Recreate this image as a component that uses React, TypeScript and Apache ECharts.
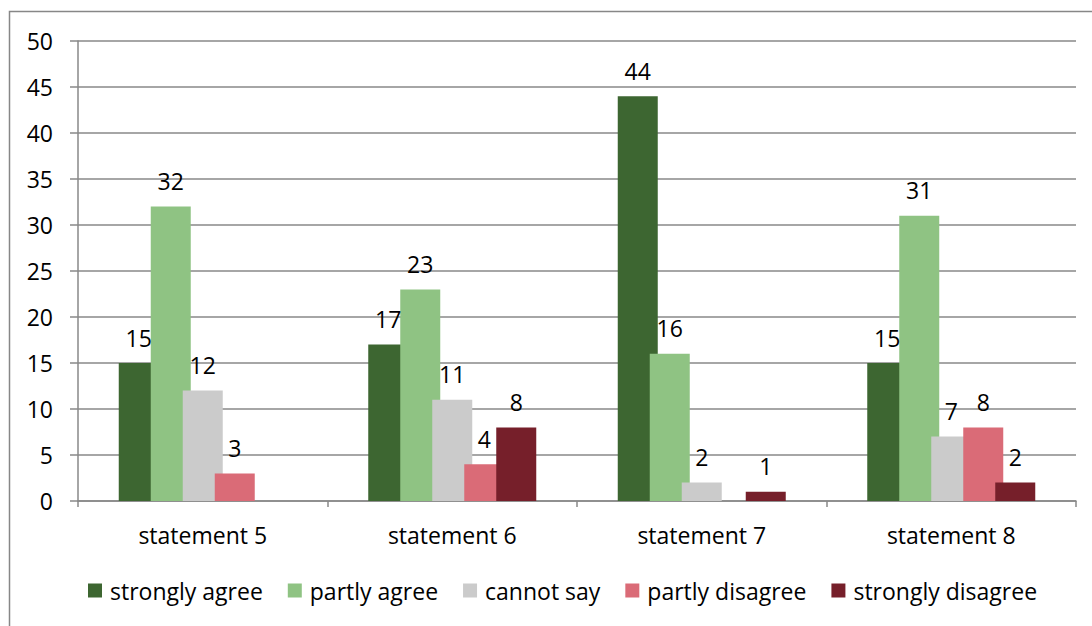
import React, { useEffect, useRef } from "react";
import * as echarts from "echarts";

const categories = ["statement 5", "statement 6", "statement 7", "statement 8"];
const seriesNames = ["strongly agree", "partly agree", "cannot say", "partly disagree", "strongly disagree"];
const stronglyAgree = [15, 17, 44, 15];
const partlyAgree = [32, 23, 16, 31];
const cannotSay = [12, 11, 2, 7];
const partlyDisagree = [3, 4, 0, 8];
const stronglyDisagree = [0, 8, 1, 2];
const seriesColors = ["#3D6631", "#8FC383", "#CBCBCB", "#DA6B77", "#761F2A"];

const FONT = "'Open Sans', 'Noto Sans', sans-serif";
const FS = 23;

export default function App() {
  const ref = useRef<HTMLDivElement>(null);

  useEffect(() => {
    if (!ref.current) return;
    const chart = echarts.init(ref.current, undefined, { renderer: "svg" });
    const values = [stronglyAgree, partlyAgree, cannotSay, partlyDisagree, stronglyDisagree];

    chart.setOption({
      animation: false,
      backgroundColor: "#ffffff",
      textStyle: { fontFamily: FONT },
      graphic: [
        {
          type: "rect",
          shape: { x: 9.5, y: 11.5, width: 1100, height: 700 },
          style: { fill: "none", stroke: "#878787", lineWidth: 1.5 },
          silent: true,
        },
      ],
      grid: { left: 78, right: 16, top: 41, bottom: 125, containLabel: false },
      legend: {
        left: 83,
        top: 574,
        icon: "rect",
        itemWidth: 14,
        itemHeight: 14,
        itemGap: 25,
        data: seriesNames,
        textStyle: { fontFamily: FONT, fontSize: FS, color: "#000", padding: [0, 0, 0, 3] },
      },
      xAxis: {
        type: "category",
        data: categories,
        axisLine: { lineStyle: { color: "#888888", width: 1.5 } },
        axisTick: { show: true, length: 6, lineStyle: { color: "#888888", width: 1.5 } },
        axisLabel: { fontFamily: FONT, fontSize: FS, color: "#000", margin: 22 },
      },
      yAxis: {
        type: "value",
        min: 0,
        max: 50,
        interval: 5,
        axisLine: { show: true, lineStyle: { color: "#888888", width: 1.5 } },
        axisTick: { show: true, length: 8, lineStyle: { color: "#888888", width: 1.5 } },
        splitLine: { lineStyle: { color: "#888888", width: 1.5 } },
        axisLabel: { fontFamily: FONT, fontSize: FS, color: "#000", margin: 25 },
      },
      series: seriesNames.map((name, i) => ({
        name,
        type: "bar",
        barWidth: 40,
        barGap: "-20%",
        itemStyle: { color: seriesColors[i] },
        label: {
          show: true,
          position: "top",
          distance: 14,
          fontFamily: FONT,
          fontSize: FS,
          color: "#000",
          formatter: (p: any) => (p.value === 0 ? "" : String(p.value)),
        },
        data: values[i],
      })),
    });

    return () => chart.dispose();
  }, []);

  return (
    <div
      ref={ref}
      style={{ position: "fixed", left: 0, top: 0, width: 1092, height: 626 }}
    />
  );
}
